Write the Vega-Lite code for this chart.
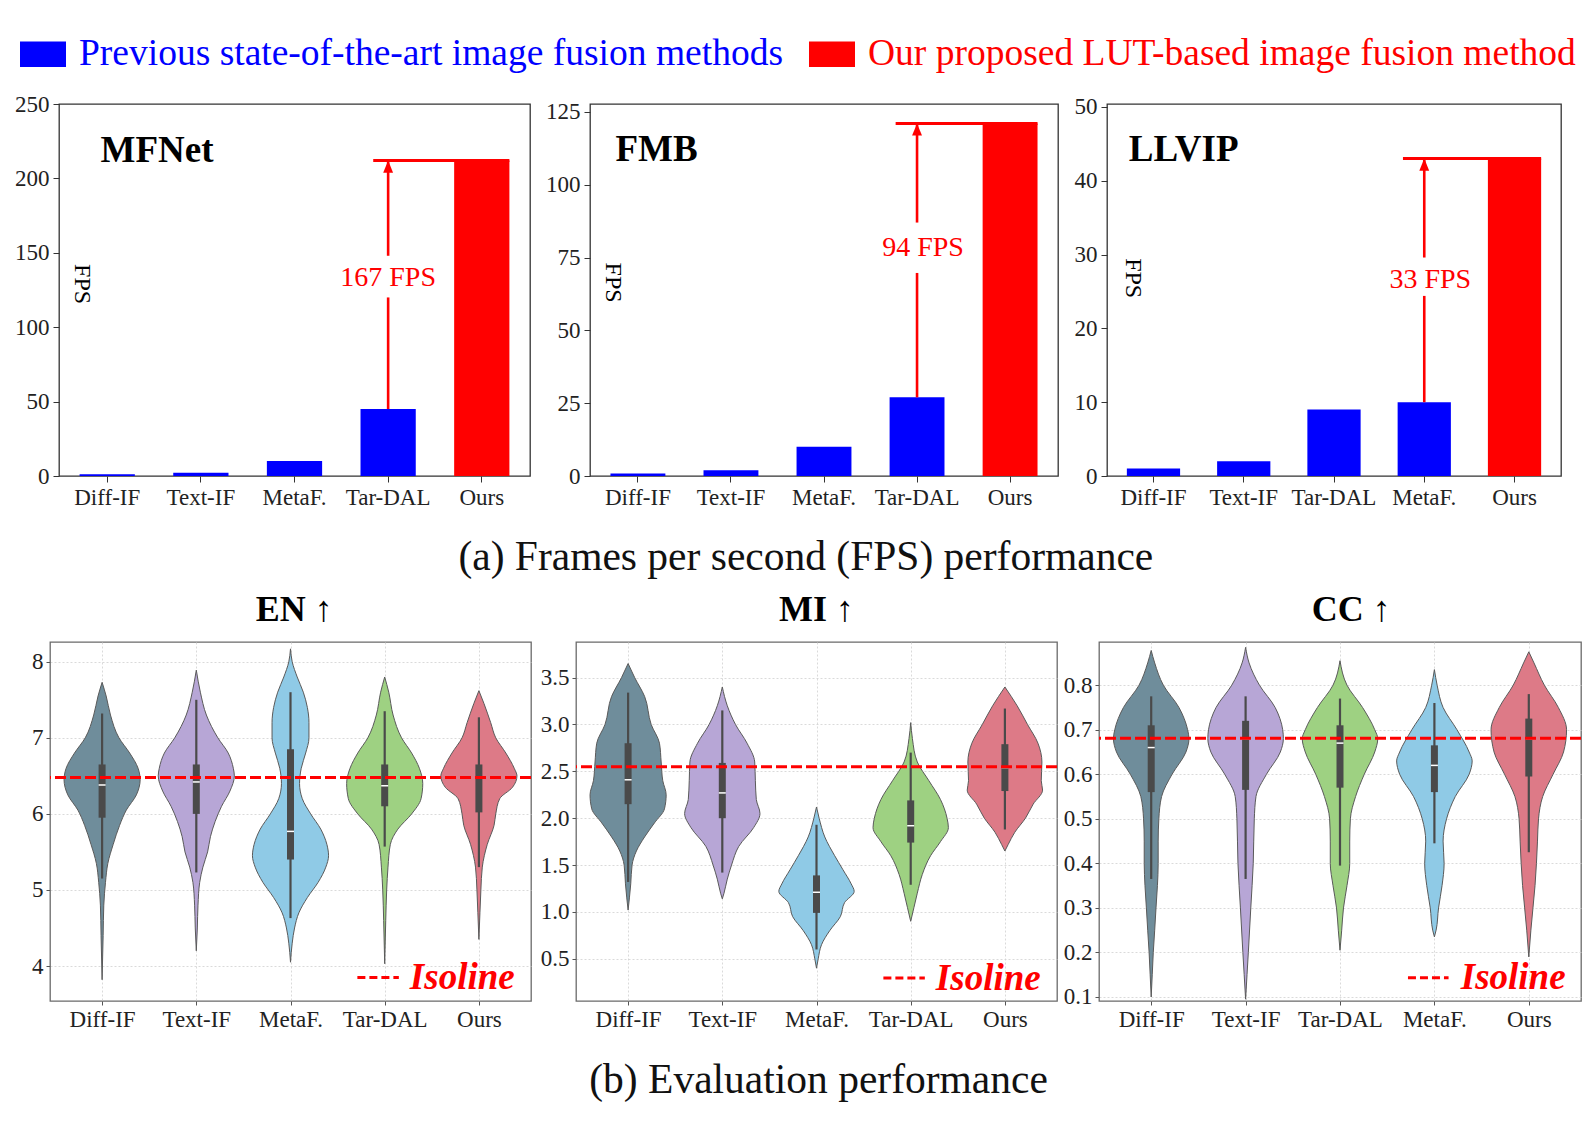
{
"$schema": "https://vega.github.io/schema/vega-lite/v6.json",
"background": "white",
"padding": {"left": 4, "top": 31, "right": 8, "bottom": 10},
"config": {
  "font": "Liberation Serif",
  "axis": {"labelFont": "Liberation Serif", "labelFontSize": 23, "labelColor": "#222", "tickColor": "#333", "domain": false, "titleFont": "Liberation Serif", "labelOverlap": false, "labelFlush": false},
  "title": {"font": "Liberation Serif", "color": "#111"},
  "legend": {"labelFont": "Liberation Serif"}
},
"datasets": {
  "bars": [
    {"p":"MFNet","c":"Diff-IF","fps":1.1,"g":"prev"},
    {"p":"MFNet","c":"Text-IF","fps":2.2,"g":"prev"},
    {"p":"MFNet","c":"MetaF.","fps":10,"g":"prev"},
    {"p":"MFNet","c":"Tar-DAL","fps":45,"g":"prev"},
    {"p":"MFNet","c":"Ours","fps":212,"g":"ours"},
    {"p":"FMB","c":"Diff-IF","fps":0.9,"g":"prev"},
    {"p":"FMB","c":"Text-IF","fps":2,"g":"prev"},
    {"p":"FMB","c":"MetaF.","fps":10,"g":"prev"},
    {"p":"FMB","c":"Tar-DAL","fps":27,"g":"prev"},
    {"p":"FMB","c":"Ours","fps":121,"g":"ours"},
    {"p":"LLVIP","c":"Diff-IF","fps":1,"g":"prev"},
    {"p":"LLVIP","c":"Text-IF","fps":2,"g":"prev"},
    {"p":"LLVIP","c":"Tar-DAL","fps":9,"g":"prev"},
    {"p":"LLVIP","c":"MetaF.","fps":10,"g":"prev"},
    {"p":"LLVIP","c":"Ours","fps":43,"g":"ours"}
  ],
  "gain": [
    {"p":"MFNet","c":"Tar-DAL","from":45,"to":212,"label":"167 FPS","ly":133,"gapLo":120,"gapHi":148},
    {"p":"FMB","c":"Tar-DAL","from":27,"to":121,"label":"94 FPS","ly":78.3,"gapLo":69.7,"gapHi":87},
    {"p":"LLVIP","c":"MetaF.","from":10,"to":43,"label":"33 FPS","ly":26.6,"gapLo":24.4,"gapHi":29.6}
  ],
  "box": [
    {"m":"EN","c":"Diff-IF","lo":5.15,"q1":5.95,"med":6.38,"q3":6.65,"hi":7.32},
    {"m":"EN","c":"Text-IF","lo":5.23,"q1":6.0,"med":6.42,"q3":6.65,"hi":7.5},
    {"m":"EN","c":"MetaF.","lo":4.63,"q1":5.4,"med":5.77,"q3":6.85,"hi":7.6},
    {"m":"EN","c":"Tar-DAL","lo":5.57,"q1":6.1,"med":6.37,"q3":6.65,"hi":7.35},
    {"m":"EN","c":"Ours","lo":5.3,"q1":6.02,"med":6.48,"q3":6.65,"hi":7.27},
    {"m":"MI","c":"Diff-IF","lo":1.32,"q1":2.15,"med":2.41,"q3":2.8,"hi":3.34},
    {"m":"MI","c":"Text-IF","lo":1.42,"q1":2.0,"med":2.27,"q3":2.59,"hi":3.15},
    {"m":"MI","c":"MetaF.","lo":0.6,"q1":0.99,"med":1.21,"q3":1.39,"hi":1.93},
    {"m":"MI","c":"Tar-DAL","lo":1.29,"q1":1.74,"med":1.92,"q3":2.19,"hi":2.7},
    {"m":"MI","c":"Ours","lo":1.88,"q1":2.29,"med":2.54,"q3":2.79,"hi":3.17},
    {"m":"CC","c":"Diff-IF","lo":0.365,"q1":0.56,"med":0.66,"q3":0.71,"hi":0.775},
    {"m":"CC","c":"Text-IF","lo":0.365,"q1":0.565,"med":0.68,"q3":0.72,"hi":0.775},
    {"m":"CC","c":"Tar-DAL","lo":0.395,"q1":0.57,"med":0.67,"q3":0.71,"hi":0.77},
    {"m":"CC","c":"MetaF.","lo":0.445,"q1":0.56,"med":0.62,"q3":0.665,"hi":0.76},
    {"m":"CC","c":"Ours","lo":0.425,"q1":0.595,"med":0.68,"q3":0.725,"hi":0.78}
  ],
  "heads": [
    {"m":"EN","t":"EN ↑","x":2.04,"y":8.536},
    {"m":"MI","t":"MI ↑","x":2.0,"y":4.104},
    {"m":"CC","t":"CC ↑","x":2.12,"y":0.944}
  ],
  "vio": [
    {"m":"EN","c":"Diff-IF","v":7.73,"w":0},{"m":"EN","c":"Diff-IF","v":7.55,"w":0.043},{"m":"EN","c":"Diff-IF","v":7.3,"w":0.089},{"m":"EN","c":"Diff-IF","v":7.0,"w":0.179},{"m":"EN","c":"Diff-IF","v":6.8,"w":0.293},{"m":"EN","c":"Diff-IF","v":6.6,"w":0.382},{"m":"EN","c":"Diff-IF","v":6.45,"w":0.404},{"m":"EN","c":"Diff-IF","v":6.25,"w":0.364},{"m":"EN","c":"Diff-IF","v":6.05,"w":0.257},{"m":"EN","c":"Diff-IF","v":5.85,"w":0.186},{"m":"EN","c":"Diff-IF","v":5.6,"w":0.118},{"m":"EN","c":"Diff-IF","v":5.35,"w":0.061},{"m":"EN","c":"Diff-IF","v":5.1,"w":0.036},{"m":"EN","c":"Diff-IF","v":4.8,"w":0.018},{"m":"EN","c":"Diff-IF","v":4.4,"w":0.011},{"m":"EN","c":"Diff-IF","v":3.82,"w":0},
    {"m":"EN","c":"Text-IF","v":7.89,"w":0},{"m":"EN","c":"Text-IF","v":7.6,"w":0.043},{"m":"EN","c":"Text-IF","v":7.3,"w":0.107},{"m":"EN","c":"Text-IF","v":7.0,"w":0.229},{"m":"EN","c":"Text-IF","v":6.8,"w":0.339},{"m":"EN","c":"Text-IF","v":6.6,"w":0.393},{"m":"EN","c":"Text-IF","v":6.5,"w":0.404},{"m":"EN","c":"Text-IF","v":6.3,"w":0.357},{"m":"EN","c":"Text-IF","v":6.1,"w":0.268},{"m":"EN","c":"Text-IF","v":5.9,"w":0.2},{"m":"EN","c":"Text-IF","v":5.7,"w":0.15},{"m":"EN","c":"Text-IF","v":5.5,"w":0.12},{"m":"EN","c":"Text-IF","v":5.3,"w":0.07},{"m":"EN","c":"Text-IF","v":5.1,"w":0.036},{"m":"EN","c":"Text-IF","v":4.8,"w":0.018},{"m":"EN","c":"Text-IF","v":4.5,"w":0.011},{"m":"EN","c":"Text-IF","v":4.2,"w":0},
    {"m":"EN","c":"MetaF.","v":8.17,"w":0},{"m":"EN","c":"MetaF.","v":8.0,"w":0.018},{"m":"EN","c":"MetaF.","v":7.8,"w":0.071},{"m":"EN","c":"MetaF.","v":7.6,"w":0.136},{"m":"EN","c":"MetaF.","v":7.4,"w":0.179},{"m":"EN","c":"MetaF.","v":7.2,"w":0.196},{"m":"EN","c":"MetaF.","v":7.0,"w":0.196},{"m":"EN","c":"MetaF.","v":6.8,"w":0.161},{"m":"EN","c":"MetaF.","v":6.6,"w":0.114},{"m":"EN","c":"MetaF.","v":6.4,"w":0.096},{"m":"EN","c":"MetaF.","v":6.2,"w":0.125},{"m":"EN","c":"MetaF.","v":6.0,"w":0.214},{"m":"EN","c":"MetaF.","v":5.8,"w":0.321},{"m":"EN","c":"MetaF.","v":5.6,"w":0.386},{"m":"EN","c":"MetaF.","v":5.45,"w":0.404},{"m":"EN","c":"MetaF.","v":5.3,"w":0.375},{"m":"EN","c":"MetaF.","v":5.1,"w":0.293},{"m":"EN","c":"MetaF.","v":4.9,"w":0.179},{"m":"EN","c":"MetaF.","v":4.7,"w":0.089},{"m":"EN","c":"MetaF.","v":4.5,"w":0.043},{"m":"EN","c":"MetaF.","v":4.3,"w":0.018},{"m":"EN","c":"MetaF.","v":4.05,"w":0},
    {"m":"EN","c":"Tar-DAL","v":7.8,"w":0},{"m":"EN","c":"Tar-DAL","v":7.6,"w":0.043},{"m":"EN","c":"Tar-DAL","v":7.3,"w":0.089},{"m":"EN","c":"Tar-DAL","v":7.0,"w":0.179},{"m":"EN","c":"Tar-DAL","v":6.8,"w":0.286},{"m":"EN","c":"Tar-DAL","v":6.6,"w":0.368},{"m":"EN","c":"Tar-DAL","v":6.4,"w":0.404},{"m":"EN","c":"Tar-DAL","v":6.2,"w":0.386},{"m":"EN","c":"Tar-DAL","v":6.0,"w":0.286},{"m":"EN","c":"Tar-DAL","v":5.8,"w":0.14},{"m":"EN","c":"Tar-DAL","v":5.6,"w":0.06},{"m":"EN","c":"Tar-DAL","v":5.3,"w":0.035},{"m":"EN","c":"Tar-DAL","v":5.0,"w":0.021},{"m":"EN","c":"Tar-DAL","v":4.6,"w":0.011},{"m":"EN","c":"Tar-DAL","v":4.03,"w":0},
    {"m":"EN","c":"Ours","v":7.62,"w":0},{"m":"EN","c":"Ours","v":7.45,"w":0.054},{"m":"EN","c":"Ours","v":7.2,"w":0.125},{"m":"EN","c":"Ours","v":7.0,"w":0.179},{"m":"EN","c":"Ours","v":6.8,"w":0.286},{"m":"EN","c":"Ours","v":6.6,"w":0.375},{"m":"EN","c":"Ours","v":6.5,"w":0.404},{"m":"EN","c":"Ours","v":6.35,"w":0.357},{"m":"EN","c":"Ours","v":6.2,"w":0.221},{"m":"EN","c":"Ours","v":6.0,"w":0.179},{"m":"EN","c":"Ours","v":5.85,"w":0.161},{"m":"EN","c":"Ours","v":5.6,"w":0.089},{"m":"EN","c":"Ours","v":5.3,"w":0.036},{"m":"EN","c":"Ours","v":5.0,"w":0.021},{"m":"EN","c":"Ours","v":4.7,"w":0.011},{"m":"EN","c":"Ours","v":4.35,"w":0},
    {"m":"MI","c":"Diff-IF","v":3.65,"w":0},{"m":"MI","c":"Diff-IF","v":3.5,"w":0.07},{"m":"MI","c":"Diff-IF","v":3.3,"w":0.175},{"m":"MI","c":"Diff-IF","v":3.0,"w":0.245},{"m":"MI","c":"Diff-IF","v":2.8,"w":0.333},{"m":"MI","c":"Diff-IF","v":2.6,"w":0.351},{"m":"MI","c":"Diff-IF","v":2.4,"w":0.368},{"m":"MI","c":"Diff-IF","v":2.25,"w":0.404},{"m":"MI","c":"Diff-IF","v":2.1,"w":0.386},{"m":"MI","c":"Diff-IF","v":1.95,"w":0.28},{"m":"MI","c":"Diff-IF","v":1.8,"w":0.175},{"m":"MI","c":"Diff-IF","v":1.65,"w":0.088},{"m":"MI","c":"Diff-IF","v":1.5,"w":0.042},{"m":"MI","c":"Diff-IF","v":1.3,"w":0.028},{"m":"MI","c":"Diff-IF","v":1.15,"w":0.014},{"m":"MI","c":"Diff-IF","v":1.02,"w":0},
    {"m":"MI","c":"Text-IF","v":3.4,"w":0},{"m":"MI","c":"Text-IF","v":3.2,"w":0.053},{"m":"MI","c":"Text-IF","v":3.0,"w":0.14},{"m":"MI","c":"Text-IF","v":2.8,"w":0.263},{"m":"MI","c":"Text-IF","v":2.6,"w":0.344},{"m":"MI","c":"Text-IF","v":2.4,"w":0.351},{"m":"MI","c":"Text-IF","v":2.2,"w":0.361},{"m":"MI","c":"Text-IF","v":2.05,"w":0.4},{"m":"MI","c":"Text-IF","v":1.9,"w":0.333},{"m":"MI","c":"Text-IF","v":1.7,"w":0.175},{"m":"MI","c":"Text-IF","v":1.5,"w":0.098},{"m":"MI","c":"Text-IF","v":1.35,"w":0.053},{"m":"MI","c":"Text-IF","v":1.2,"w":0.018},{"m":"MI","c":"Text-IF","v":1.14,"w":0},
    {"m":"MI","c":"MetaF.","v":2.12,"w":0},{"m":"MI","c":"MetaF.","v":2.0,"w":0.028},{"m":"MI","c":"MetaF.","v":1.8,"w":0.088},{"m":"MI","c":"MetaF.","v":1.6,"w":0.193},{"m":"MI","c":"MetaF.","v":1.45,"w":0.281},{"m":"MI","c":"MetaF.","v":1.3,"w":0.368},{"m":"MI","c":"MetaF.","v":1.22,"w":0.4},{"m":"MI","c":"MetaF.","v":1.1,"w":0.298},{"m":"MI","c":"MetaF.","v":0.95,"w":0.253},{"m":"MI","c":"MetaF.","v":0.8,"w":0.14},{"m":"MI","c":"MetaF.","v":0.65,"w":0.053},{"m":"MI","c":"MetaF.","v":0.5,"w":0.018},{"m":"MI","c":"MetaF.","v":0.4,"w":0},
    {"m":"MI","c":"Tar-DAL","v":3.02,"w":0},{"m":"MI","c":"Tar-DAL","v":2.85,"w":0.018},{"m":"MI","c":"Tar-DAL","v":2.6,"w":0.07},{"m":"MI","c":"Tar-DAL","v":2.4,"w":0.193},{"m":"MI","c":"Tar-DAL","v":2.2,"w":0.316},{"m":"MI","c":"Tar-DAL","v":2.0,"w":0.386},{"m":"MI","c":"Tar-DAL","v":1.9,"w":0.4},{"m":"MI","c":"Tar-DAL","v":1.75,"w":0.316},{"m":"MI","c":"Tar-DAL","v":1.6,"w":0.211},{"m":"MI","c":"Tar-DAL","v":1.4,"w":0.123},{"m":"MI","c":"Tar-DAL","v":1.2,"w":0.07},{"m":"MI","c":"Tar-DAL","v":1.05,"w":0.035},{"m":"MI","c":"Tar-DAL","v":0.9,"w":0},
    {"m":"MI","c":"Ours","v":3.4,"w":0},{"m":"MI","c":"Ours","v":3.2,"w":0.13},{"m":"MI","c":"Ours","v":3.0,"w":0.24},{"m":"MI","c":"Ours","v":2.8,"w":0.351},{"m":"MI","c":"Ours","v":2.6,"w":0.393},{"m":"MI","c":"Ours","v":2.4,"w":0.386},{"m":"MI","c":"Ours","v":2.3,"w":0.4},{"m":"MI","c":"Ours","v":2.15,"w":0.3},{"m":"MI","c":"Ours","v":2.0,"w":0.218},{"m":"MI","c":"Ours","v":1.85,"w":0.105},{"m":"MI","c":"Ours","v":1.72,"w":0.035},{"m":"MI","c":"Ours","v":1.65,"w":0},
    {"m":"CC","c":"Diff-IF","v":0.878,"w":0},{"m":"CC","c":"Diff-IF","v":0.85,"w":0.037},{"m":"CC","c":"Diff-IF","v":0.8,"w":0.129},{"m":"CC","c":"Diff-IF","v":0.75,"w":0.294},{"m":"CC","c":"Diff-IF","v":0.7,"w":0.386},{"m":"CC","c":"Diff-IF","v":0.68,"w":0.4},{"m":"CC","c":"Diff-IF","v":0.65,"w":0.368},{"m":"CC","c":"Diff-IF","v":0.6,"w":0.221},{"m":"CC","c":"Diff-IF","v":0.55,"w":0.11},{"m":"CC","c":"Diff-IF","v":0.5,"w":0.081},{"m":"CC","c":"Diff-IF","v":0.45,"w":0.074},{"m":"CC","c":"Diff-IF","v":0.4,"w":0.074},{"m":"CC","c":"Diff-IF","v":0.35,"w":0.066},{"m":"CC","c":"Diff-IF","v":0.3,"w":0.051},{"m":"CC","c":"Diff-IF","v":0.25,"w":0.037},{"m":"CC","c":"Diff-IF","v":0.2,"w":0.022},{"m":"CC","c":"Diff-IF","v":0.15,"w":0.011},{"m":"CC","c":"Diff-IF","v":0.1,"w":0},
    {"m":"CC","c":"Text-IF","v":0.885,"w":0},{"m":"CC","c":"Text-IF","v":0.85,"w":0.037},{"m":"CC","c":"Text-IF","v":0.8,"w":0.147},{"m":"CC","c":"Text-IF","v":0.75,"w":0.313},{"m":"CC","c":"Text-IF","v":0.7,"w":0.393},{"m":"CC","c":"Text-IF","v":0.68,"w":0.4},{"m":"CC","c":"Text-IF","v":0.65,"w":0.368},{"m":"CC","c":"Text-IF","v":0.6,"w":0.221},{"m":"CC","c":"Text-IF","v":0.55,"w":0.11},{"m":"CC","c":"Text-IF","v":0.5,"w":0.092},{"m":"CC","c":"Text-IF","v":0.4,"w":0.081},{"m":"CC","c":"Text-IF","v":0.3,"w":0.055},{"m":"CC","c":"Text-IF","v":0.2,"w":0.029},{"m":"CC","c":"Text-IF","v":0.15,"w":0.015},{"m":"CC","c":"Text-IF","v":0.095,"w":0},
    {"m":"CC","c":"Tar-DAL","v":0.855,"w":0},{"m":"CC","c":"Tar-DAL","v":0.8,"w":0.074},{"m":"CC","c":"Tar-DAL","v":0.75,"w":0.239},{"m":"CC","c":"Tar-DAL","v":0.7,"w":0.368},{"m":"CC","c":"Tar-DAL","v":0.68,"w":0.4},{"m":"CC","c":"Tar-DAL","v":0.65,"w":0.368},{"m":"CC","c":"Tar-DAL","v":0.6,"w":0.257},{"m":"CC","c":"Tar-DAL","v":0.55,"w":0.165},{"m":"CC","c":"Tar-DAL","v":0.5,"w":0.11},{"m":"CC","c":"Tar-DAL","v":0.45,"w":0.103},{"m":"CC","c":"Tar-DAL","v":0.4,"w":0.103},{"m":"CC","c":"Tar-DAL","v":0.35,"w":0.074},{"m":"CC","c":"Tar-DAL","v":0.3,"w":0.037},{"m":"CC","c":"Tar-DAL","v":0.25,"w":0.018},{"m":"CC","c":"Tar-DAL","v":0.205,"w":0},
    {"m":"CC","c":"MetaF.","v":0.835,"w":0},{"m":"CC","c":"MetaF.","v":0.8,"w":0.029},{"m":"CC","c":"MetaF.","v":0.75,"w":0.092},{"m":"CC","c":"MetaF.","v":0.7,"w":0.239},{"m":"CC","c":"MetaF.","v":0.65,"w":0.368},{"m":"CC","c":"MetaF.","v":0.63,"w":0.4},{"m":"CC","c":"MetaF.","v":0.6,"w":0.368},{"m":"CC","c":"MetaF.","v":0.55,"w":0.221},{"m":"CC","c":"MetaF.","v":0.5,"w":0.129},{"m":"CC","c":"MetaF.","v":0.45,"w":0.092},{"m":"CC","c":"MetaF.","v":0.4,"w":0.103},{"m":"CC","c":"MetaF.","v":0.35,"w":0.081},{"m":"CC","c":"MetaF.","v":0.3,"w":0.044},{"m":"CC","c":"MetaF.","v":0.25,"w":0.018},{"m":"CC","c":"MetaF.","v":0.235,"w":0},
    {"m":"CC","c":"Ours","v":0.875,"w":0},{"m":"CC","c":"Ours","v":0.85,"w":0.055},{"m":"CC","c":"Ours","v":0.8,"w":0.165},{"m":"CC","c":"Ours","v":0.75,"w":0.313},{"m":"CC","c":"Ours","v":0.7,"w":0.4},{"m":"CC","c":"Ours","v":0.65,"w":0.368},{"m":"CC","c":"Ours","v":0.6,"w":0.257},{"m":"CC","c":"Ours","v":0.55,"w":0.147},{"m":"CC","c":"Ours","v":0.5,"w":0.103},{"m":"CC","c":"Ours","v":0.45,"w":0.092},{"m":"CC","c":"Ours","v":0.4,"w":0.081},{"m":"CC","c":"Ours","v":0.35,"w":0.066},{"m":"CC","c":"Ours","v":0.3,"w":0.044},{"m":"CC","c":"Ours","v":0.25,"w":0.022},{"m":"CC","c":"Ours","v":0.19,"w":0}
  ]
},
"spacing": 12,
"vconcat": [
{
  "hconcat": [
  {
    "width": 1, "height": 1,
    "view": {"stroke": null},
    "data": {"values": []},
    "mark": {"type": "point", "opacity": 0}
  },
  {
    "width": 471, "height": 372,
    "view": {"stroke": "#333", "strokeWidth": 1.3},
    "layer": [
      {"data": {"name": "bars"}, "transform": [{"filter": "datum.p == 'MFNet'"}],
       "mark": {"type": "bar"},
       "encoding": {
         "x": {"field": "c", "type": "nominal", "scale": {"type": "band", "domain": ["Diff-IF","Text-IF","MetaF.","Tar-DAL","Ours"], "paddingInner": 0.41, "paddingOuter": 0.22}, "axis": {"title": null, "labelAngle": 0, "tickSize": 6, "labelPadding": 4}},
         "y": {"field": "fps", "type": "quantitative", "scale": {"domain": [0, 250], "nice": false}, "axis": {"values": [0,50,100,150,200,250], "grid": false, "tickSize": 6, "labelPadding": 4, "title": ".", "titleX": -46, "titleY": -11, "titleAngle": 0, "titleAlign": "left", "titleBaseline": "middle", "titleFontSize": 2, "titleColor": "transparent"}},
         "color": {"field": "g", "type": "nominal", "scale": {"domain": ["prev","ours"], "range": ["#0000ff","#ff0000"]},
           "legend": {"orient": "none", "legendX": 16, "legendY": -73, "direction": "horizontal", "columns": 2, "columnPadding": 26, "title": null, "symbolType": "M-1,-0.55H1V0.55H-1Z", "symbolSize": 2116, "symbolStrokeWidth": 0, "symbolOpacity": 1, "labelFont": "Liberation Serif", "labelFontSize": 37.5, "labelLimit": 2000, "labelOffset": 13, "padding": 0, "labelExpr": "datum.value === 'prev' ? 'Previous state-of-the-art image fusion methods' : 'Our proposed LUT-based image fusion method'", "encode": {"labels": {"update": {"fill": {"signal": "datum.value === 'prev' ? '#0000ff' : '#ff0000'"}}}}}}
       }},
      {"data": {"name": "gain"}, "transform": [{"filter": "datum.p == 'MFNet'"}],
       "mark": {"type": "rule", "color": "#ff0000", "strokeWidth": 3},
       "encoding": {"x": {"field": "c", "type": "nominal", "bandPosition": 0.23}, "x2": {"datum": "Ours", "bandPosition": 1}, "y": {"field": "to", "type": "quantitative"}}},
      {"data": {"name": "gain"}, "transform": [{"filter": "datum.p == 'MFNet'"}],
       "mark": {"type": "rule", "color": "#ff0000", "strokeWidth": 2.6},
       "encoding": {"x": {"field": "c", "type": "nominal", "bandPosition": 0.5}, "y": {"field": "from", "type": "quantitative"}, "y2": {"field": "gapLo"}}},
      {"data": {"name": "gain"}, "transform": [{"filter": "datum.p == 'MFNet'"}],
       "mark": {"type": "rule", "color": "#ff0000", "strokeWidth": 2.6},
       "encoding": {"x": {"field": "c", "type": "nominal", "bandPosition": 0.5}, "y": {"field": "gapHi", "type": "quantitative"}, "y2": {"field": "to"}}},
      {"data": {"name": "gain"}, "transform": [{"filter": "datum.p == 'MFNet'"}],
       "mark": {"type": "point", "shape": "M0,0L-0.45,1.1L0.45,1.1Z", "size": 484, "filled": true, "color": "#ff0000", "opacity": 1},
       "encoding": {"x": {"field": "c", "type": "nominal", "bandPosition": 0.5}, "y": {"field": "to", "type": "quantitative"}}},
      {"data": {"name": "gain"}, "transform": [{"filter": "datum.p == 'MFNet'"}],
       "mark": {"type": "text", "color": "#ff0000", "fontSize": 28, "align": "center", "baseline": "middle"},
       "encoding": {"x": {"field": "c", "type": "nominal", "bandPosition": 0.5}, "y": {"field": "ly", "type": "quantitative"}, "text": {"field": "label"}}},
      {"data": {"values": [{}]},
       "mark": {"type": "text", "text": "MFNet", "fontSize": 37, "fontWeight": "bold", "align": "left", "baseline": "alphabetic", "dx": 21, "color": "#000"},
       "encoding": {"x": {"datum": "Diff-IF", "bandPosition": 0}, "y": {"datum": 211}}},
      {"data": {"values": [{}]},
       "mark": {"type": "text", "text": "FPS", "fontSize": 24, "angle": 90, "align": "center", "baseline": "middle", "color": "#000"},
       "encoding": {"x": {"datum": "Diff-IF", "bandPosition": 0.05}, "y": {"datum": 129}}}
    ]
  },
  {
    "width": 468, "height": 372,
    "view": {"stroke": "#333", "strokeWidth": 1.3},
    "layer": [
      {"data": {"name": "bars"}, "transform": [{"filter": "datum.p == 'FMB'"}],
       "mark": {"type": "bar"},
       "encoding": {
         "x": {"field": "c", "type": "nominal", "scale": {"type": "band", "domain": ["Diff-IF","Text-IF","MetaF.","Tar-DAL","Ours"], "paddingInner": 0.41, "paddingOuter": 0.22}, "axis": {"title": null, "labelAngle": 0, "tickSize": 6, "labelPadding": 4}},
         "y": {"field": "fps", "type": "quantitative", "scale": {"domain": [0, 127.7], "nice": false}, "axis": {"values": [0,25,50,75,100,125], "grid": false, "tickSize": 6, "labelPadding": 4, "title": ".", "titleX": -51, "titleY": -11, "titleAngle": 0, "titleAlign": "left", "titleBaseline": "middle", "titleFontSize": 2, "titleColor": "transparent"}},
         "color": {"field": "g", "type": "nominal", "scale": {"domain": ["prev","ours"], "range": ["#0000ff","#ff0000"]},
           "legend": {"orient": "none", "legendX": 16, "legendY": -73, "direction": "horizontal", "columns": 2, "columnPadding": 26, "title": null, "symbolType": "M-1,-0.55H1V0.55H-1Z", "symbolSize": 2116, "symbolStrokeWidth": 0, "symbolOpacity": 1, "labelFont": "Liberation Serif", "labelFontSize": 37.5, "labelLimit": 2000, "labelOffset": 13, "padding": 0, "labelExpr": "datum.value === 'prev' ? 'Previous state-of-the-art image fusion methods' : 'Our proposed LUT-based image fusion method'", "encode": {"labels": {"update": {"fill": {"signal": "datum.value === 'prev' ? '#0000ff' : '#ff0000'"}}}}}}
       }},
      {"data": {"name": "gain"}, "transform": [{"filter": "datum.p == 'FMB'"}],
       "mark": {"type": "rule", "color": "#ff0000", "strokeWidth": 3},
       "encoding": {"x": {"field": "c", "type": "nominal", "bandPosition": 0.11}, "x2": {"datum": "Ours", "bandPosition": 1}, "y": {"field": "to", "type": "quantitative"}}},
      {"data": {"name": "gain"}, "transform": [{"filter": "datum.p == 'FMB'"}],
       "mark": {"type": "rule", "color": "#ff0000", "strokeWidth": 2.6},
       "encoding": {"x": {"field": "c", "type": "nominal", "bandPosition": 0.5}, "y": {"field": "from", "type": "quantitative"}, "y2": {"field": "gapLo"}}},
      {"data": {"name": "gain"}, "transform": [{"filter": "datum.p == 'FMB'"}],
       "mark": {"type": "rule", "color": "#ff0000", "strokeWidth": 2.6},
       "encoding": {"x": {"field": "c", "type": "nominal", "bandPosition": 0.5}, "y": {"field": "gapHi", "type": "quantitative"}, "y2": {"field": "to"}}},
      {"data": {"name": "gain"}, "transform": [{"filter": "datum.p == 'FMB'"}],
       "mark": {"type": "point", "shape": "M0,0L-0.45,1.1L0.45,1.1Z", "size": 484, "filled": true, "color": "#ff0000", "opacity": 1},
       "encoding": {"x": {"field": "c", "type": "nominal", "bandPosition": 0.5}, "y": {"field": "to", "type": "quantitative"}}},
      {"data": {"name": "gain"}, "transform": [{"filter": "datum.p == 'FMB'"}],
       "mark": {"type": "text", "color": "#ff0000", "fontSize": 28, "align": "center", "baseline": "middle", "dx": 6},
       "encoding": {"x": {"field": "c", "type": "nominal", "bandPosition": 0.5}, "y": {"field": "ly", "type": "quantitative"}, "text": {"field": "label"}}},
      {"data": {"values": [{}]},
       "mark": {"type": "text", "text": "FMB", "fontSize": 37, "fontWeight": "bold", "align": "left", "baseline": "alphabetic", "dx": 5, "color": "#000"},
       "encoding": {"x": {"datum": "Diff-IF", "bandPosition": 0}, "y": {"datum": 108.1}}},
      {"data": {"values": [{}]},
       "mark": {"type": "text", "text": "FPS", "fontSize": 24, "angle": 90, "align": "center", "baseline": "middle", "color": "#000"},
       "encoding": {"x": {"datum": "Diff-IF", "bandPosition": 0.05}, "y": {"datum": 66.4}}}
    ]
  },
  {
    "width": 454, "height": 372,
    "view": {"stroke": "#333", "strokeWidth": 1.3},
    "layer": [
      {"data": {"name": "bars"}, "transform": [{"filter": "datum.p == 'LLVIP'"}],
       "mark": {"type": "bar"},
       "encoding": {
         "x": {"field": "c", "type": "nominal", "scale": {"type": "band", "domain": ["Diff-IF","Text-IF","Tar-DAL","MetaF.","Ours"], "paddingInner": 0.41, "paddingOuter": 0.22}, "axis": {"title": null, "labelAngle": 0, "tickSize": 6, "labelPadding": 4}},
         "y": {"field": "fps", "type": "quantitative", "scale": {"domain": [0, 50.4], "nice": false}, "axis": {"values": [0,10,20,30,40,50], "grid": false, "tickSize": 6, "labelPadding": 4, "title": ".", "titleX": -40, "titleY": -11, "titleAngle": 0, "titleAlign": "left", "titleBaseline": "middle", "titleFontSize": 2, "titleColor": "transparent"}},
         "color": {"field": "g", "type": "nominal", "scale": {"domain": ["prev","ours"], "range": ["#0000ff","#ff0000"]},
           "legend": {"orient": "none", "legendX": 16, "legendY": -73, "direction": "horizontal", "columns": 2, "columnPadding": 26, "title": null, "symbolType": "M-1,-0.55H1V0.55H-1Z", "symbolSize": 2116, "symbolStrokeWidth": 0, "symbolOpacity": 1, "labelFont": "Liberation Serif", "labelFontSize": 37.5, "labelLimit": 2000, "labelOffset": 13, "padding": 0, "labelExpr": "datum.value === 'prev' ? 'Previous state-of-the-art image fusion methods' : 'Our proposed LUT-based image fusion method'", "encode": {"labels": {"update": {"fill": {"signal": "datum.value === 'prev' ? '#0000ff' : '#ff0000'"}}}}}}
       }},
      {"data": {"name": "gain"}, "transform": [{"filter": "datum.p == 'LLVIP'"}],
       "mark": {"type": "rule", "color": "#ff0000", "strokeWidth": 3},
       "encoding": {"x": {"field": "c", "type": "nominal", "bandPosition": 0.1}, "x2": {"datum": "Ours", "bandPosition": 1}, "y": {"field": "to", "type": "quantitative"}}},
      {"data": {"name": "gain"}, "transform": [{"filter": "datum.p == 'LLVIP'"}],
       "mark": {"type": "rule", "color": "#ff0000", "strokeWidth": 2.6},
       "encoding": {"x": {"field": "c", "type": "nominal", "bandPosition": 0.5}, "y": {"field": "from", "type": "quantitative"}, "y2": {"field": "gapLo"}}},
      {"data": {"name": "gain"}, "transform": [{"filter": "datum.p == 'LLVIP'"}],
       "mark": {"type": "rule", "color": "#ff0000", "strokeWidth": 2.6},
       "encoding": {"x": {"field": "c", "type": "nominal", "bandPosition": 0.5}, "y": {"field": "gapHi", "type": "quantitative"}, "y2": {"field": "to"}}},
      {"data": {"name": "gain"}, "transform": [{"filter": "datum.p == 'LLVIP'"}],
       "mark": {"type": "point", "shape": "M0,0L-0.45,1.1L0.45,1.1Z", "size": 484, "filled": true, "color": "#ff0000", "opacity": 1},
       "encoding": {"x": {"field": "c", "type": "nominal", "bandPosition": 0.5}, "y": {"field": "to", "type": "quantitative"}}},
      {"data": {"name": "gain"}, "transform": [{"filter": "datum.p == 'LLVIP'"}],
       "mark": {"type": "text", "color": "#ff0000", "fontSize": 28, "align": "center", "baseline": "middle", "dx": 6},
       "encoding": {"x": {"field": "c", "type": "nominal", "bandPosition": 0.5}, "y": {"field": "ly", "type": "quantitative"}, "text": {"field": "label"}}},
      {"data": {"values": [{}]},
       "mark": {"type": "text", "text": "LLVIP", "fontSize": 37, "fontWeight": "bold", "align": "left", "baseline": "alphabetic", "dx": 2, "color": "#000"},
       "encoding": {"x": {"datum": "Diff-IF", "bandPosition": 0}, "y": {"datum": 42.7}}},
      {"data": {"values": [{}]},
       "mark": {"type": "text", "text": "FPS", "fontSize": 24, "angle": 90, "align": "center", "baseline": "middle", "color": "#000"},
       "encoding": {"x": {"datum": "Diff-IF", "bandPosition": 0.12}, "y": {"datum": 26.8}}}
    ]
  }
  ],
  "spacing": 7,
  "title": {"text": "(a) Frames per second (FPS) performance", "orient": "bottom", "anchor": "middle", "fontSize": 41.5, "fontWeight": "normal", "offset": 27, "dx": 23, "color": "#111"}
},
{
  "hconcat": [
  {
    "width": 7, "height": 1,
    "view": {"stroke": null},
    "data": {"values": []},
    "mark": {"type": "point", "opacity": 0}
  },
  {
    "width": 481, "height": 359,
    "view": {"stroke": "#6a6a6a", "strokeWidth": 1.3},
    "layer": [
      {"data": {"name": "vio"},
       "transform": [{"filter": "datum.m == 'EN'"}, {"calculate": "indexof(['Diff-IF','Text-IF','MetaF.','Tar-DAL','Ours'], datum.c)", "as": "i"}, {"calculate": "datum.i - datum.w", "as": "lo"}, {"calculate": "datum.i + datum.w", "as": "hi"}],
       "mark": {"type": "area", "orient": "horizontal", "interpolate": "monotone", "stroke": "#5a5a5a", "strokeWidth": 1, "opacity": 1},
       "encoding": {
         "y": {"field": "v", "type": "quantitative", "scale": {"domain": [3.54, 8.26], "nice": false, "zero": false}, "axis": {"values": [4,5,6,7,8], "format": "d", "grid": true, "gridColor": "#d0d0d0", "gridDash": [2,2], "gridWidth": 0.8, "tickSize": 4, "tickColor": "#555", "labelPadding": 3, "title": ".", "titleX": -37, "titleY": 100, "titleAngle": 0, "titleAlign": "left", "titleBaseline": "middle", "titleFontSize": 2, "titleColor": "transparent"}},
         "x": {"field": "lo", "type": "quantitative", "scale": {"domain": [-0.5, 4.5], "nice": false, "zero": false}, "axis": {"values": [0,1,2,3,4], "labelExpr": "['Diff-IF','Text-IF','MetaF.','Tar-DAL','Ours'][datum.value]", "grid": true, "gridColor": "#d0d0d0", "gridDash": [2,2], "gridWidth": 0.8, "tickSize": 4, "tickColor": "#555", "labelPadding": 3, "title": null}},
         "x2": {"field": "hi"},
         "fill": {"field": "c", "type": "nominal", "scale": {"domain": ["Diff-IF","Text-IF","MetaF.","Tar-DAL","Ours"], "range": ["#6f8d9b","#b7a6d6","#8fcae6","#9ed182","#dd7a87"]}, "legend": null}
       }},
      {"data": {"name": "box"}, "transform": [{"filter": "datum.m == 'EN'"}, {"calculate": "indexof(['Diff-IF','Text-IF','MetaF.','Tar-DAL','Ours'], datum.c)", "as": "i"}],
       "mark": {"type": "rule", "color": "#4a4a4a", "strokeWidth": 2.2},
       "encoding": {"x": {"field": "i", "type": "quantitative"}, "y": {"field": "lo", "type": "quantitative"}, "y2": {"field": "hi"}}},
      {"data": {"name": "box"}, "transform": [{"filter": "datum.m == 'EN'"}, {"calculate": "indexof(['Diff-IF','Text-IF','MetaF.','Tar-DAL','Ours'], datum.c)", "as": "i"}],
       "mark": {"type": "bar", "color": "#4a4a4a", "size": 7},
       "encoding": {"x": {"field": "i", "type": "quantitative"}, "y": {"field": "q1", "type": "quantitative"}, "y2": {"field": "q3"}}},
      {"data": {"name": "box"}, "transform": [{"filter": "datum.m == 'EN'"}, {"calculate": "indexof(['Diff-IF','Text-IF','MetaF.','Tar-DAL','Ours'], datum.c)", "as": "i"}],
       "mark": {"type": "point", "shape": "M-1,0H1", "size": 49, "filled": false, "stroke": "#ffffff", "strokeWidth": 1.5, "opacity": 1},
       "encoding": {"x": {"field": "i", "type": "quantitative"}, "y": {"field": "med", "type": "quantitative"}}},
      {"data": {"values": [{}]},
       "mark": {"type": "rule", "color": "#ff0000", "strokeWidth": 3, "strokeDash": [11, 4]},
       "encoding": {"y": {"datum": 6.48}}},
      {"data": {"values": [{}]},
       "mark": {"type": "rule", "color": "#ff0000", "strokeWidth": 3, "strokeDash": [8, 4]},
       "encoding": {"x": {"datum": 2.71}, "x2": {"datum": 3.15}, "y": {"datum": 3.85}}},
      {"data": {"values": [{}]},
       "mark": {"type": "text", "text": "Isoline", "fontSize": 37, "fontWeight": "bold", "fontStyle": "italic", "color": "#ff0000", "align": "right", "baseline": "middle"},
       "encoding": {"x": {"datum": 4.38}, "y": {"datum": 3.84}}},
      {"data": {"name": "heads"}, "transform": [{"filter": "datum.m == 'EN'"}],
       "mark": {"type": "text", "fontSize": 36, "fontWeight": "bold", "align": "center", "baseline": "alphabetic", "color": "#000"},
       "encoding": {"x": {"field": "x", "type": "quantitative"}, "y": {"field": "y", "type": "quantitative"}, "text": {"field": "t"}}}
    ]
  },
  {
    "width": 481, "height": 359,
    "view": {"stroke": "#6a6a6a", "strokeWidth": 1.3},
    "layer": [
      {"data": {"name": "vio"},
       "transform": [{"filter": "datum.m == 'MI'"}, {"calculate": "indexof(['Diff-IF','Text-IF','MetaF.','Tar-DAL','Ours'], datum.c)", "as": "i"}, {"calculate": "datum.i - datum.w", "as": "lo"}, {"calculate": "datum.i + datum.w", "as": "hi"}],
       "mark": {"type": "area", "orient": "horizontal", "interpolate": "monotone", "stroke": "#5a5a5a", "strokeWidth": 1, "opacity": 1},
       "encoding": {
         "y": {"field": "v", "type": "quantitative", "scale": {"domain": [0.05, 3.88], "nice": false, "zero": false}, "axis": {"values": [0.5,1,1.5,2,2.5,3,3.5], "format": ".1f", "grid": true, "gridColor": "#d0d0d0", "gridDash": [2,2], "gridWidth": 0.8, "tickSize": 4, "tickColor": "#555", "labelPadding": 3, "title": ".", "titleX": -40, "titleY": 100, "titleAngle": 0, "titleAlign": "left", "titleBaseline": "middle", "titleFontSize": 2, "titleColor": "transparent"}},
         "x": {"field": "lo", "type": "quantitative", "scale": {"domain": [-0.5, 4.5], "nice": false, "zero": false}, "axis": {"values": [0,1,2,3,4], "labelExpr": "['Diff-IF','Text-IF','MetaF.','Tar-DAL','Ours'][datum.value]", "grid": true, "gridColor": "#d0d0d0", "gridDash": [2,2], "gridWidth": 0.8, "tickSize": 4, "tickColor": "#555", "labelPadding": 3, "title": null}},
         "x2": {"field": "hi"},
         "fill": {"field": "c", "type": "nominal", "scale": {"domain": ["Diff-IF","Text-IF","MetaF.","Tar-DAL","Ours"], "range": ["#6f8d9b","#b7a6d6","#8fcae6","#9ed182","#dd7a87"]}, "legend": null}
       }},
      {"data": {"name": "box"}, "transform": [{"filter": "datum.m == 'MI'"}, {"calculate": "indexof(['Diff-IF','Text-IF','MetaF.','Tar-DAL','Ours'], datum.c)", "as": "i"}],
       "mark": {"type": "rule", "color": "#4a4a4a", "strokeWidth": 2.2},
       "encoding": {"x": {"field": "i", "type": "quantitative"}, "y": {"field": "lo", "type": "quantitative"}, "y2": {"field": "hi"}}},
      {"data": {"name": "box"}, "transform": [{"filter": "datum.m == 'MI'"}, {"calculate": "indexof(['Diff-IF','Text-IF','MetaF.','Tar-DAL','Ours'], datum.c)", "as": "i"}],
       "mark": {"type": "bar", "color": "#4a4a4a", "size": 7},
       "encoding": {"x": {"field": "i", "type": "quantitative"}, "y": {"field": "q1", "type": "quantitative"}, "y2": {"field": "q3"}}},
      {"data": {"name": "box"}, "transform": [{"filter": "datum.m == 'MI'"}, {"calculate": "indexof(['Diff-IF','Text-IF','MetaF.','Tar-DAL','Ours'], datum.c)", "as": "i"}],
       "mark": {"type": "point", "shape": "M-1,0H1", "size": 49, "filled": false, "stroke": "#ffffff", "strokeWidth": 1.5, "opacity": 1},
       "encoding": {"x": {"field": "i", "type": "quantitative"}, "y": {"field": "med", "type": "quantitative"}}},
      {"data": {"values": [{}]},
       "mark": {"type": "rule", "color": "#ff0000", "strokeWidth": 3, "strokeDash": [11, 4]},
       "encoding": {"y": {"datum": 2.55}}},
      {"data": {"values": [{}]},
       "mark": {"type": "rule", "color": "#ff0000", "strokeWidth": 3, "strokeDash": [8, 4]},
       "encoding": {"x": {"datum": 2.71}, "x2": {"datum": 3.15}, "y": {"datum": 0.295}}},
      {"data": {"values": [{}]},
       "mark": {"type": "text", "text": "Isoline", "fontSize": 37, "fontWeight": "bold", "fontStyle": "italic", "color": "#ff0000", "align": "right", "baseline": "middle"},
       "encoding": {"x": {"datum": 4.38}, "y": {"datum": 0.29}}},
      {"data": {"name": "heads"}, "transform": [{"filter": "datum.m == 'MI'"}],
       "mark": {"type": "text", "fontSize": 36, "fontWeight": "bold", "align": "center", "baseline": "alphabetic", "color": "#000"},
       "encoding": {"x": {"field": "x", "type": "quantitative"}, "y": {"field": "y", "type": "quantitative"}, "text": {"field": "t"}}}
    ]
  },
  {
    "width": 482, "height": 359,
    "view": {"stroke": "#6a6a6a", "strokeWidth": 1.3},
    "layer": [
      {"data": {"name": "vio"},
       "transform": [{"filter": "datum.m == 'CC'"}, {"calculate": "indexof(['Diff-IF','Text-IF','Tar-DAL','MetaF.','Ours'], datum.c)", "as": "i"}, {"calculate": "datum.i - datum.w", "as": "lo"}, {"calculate": "datum.i + datum.w", "as": "hi"}],
       "mark": {"type": "area", "orient": "horizontal", "interpolate": "monotone", "stroke": "#5a5a5a", "strokeWidth": 1, "opacity": 1},
       "encoding": {
         "y": {"field": "v", "type": "quantitative", "scale": {"domain": [0.091, 0.897], "nice": false, "zero": false}, "axis": {"values": [0.1,0.2,0.3,0.4,0.5,0.6,0.7,0.8], "format": ".1f", "grid": true, "gridColor": "#d0d0d0", "gridDash": [2,2], "gridWidth": 0.8, "tickSize": 4, "tickColor": "#555", "labelPadding": 3, "title": ".", "titleX": -37, "titleY": 100, "titleAngle": 0, "titleAlign": "left", "titleBaseline": "middle", "titleFontSize": 2, "titleColor": "transparent"}},
         "x": {"field": "lo", "type": "quantitative", "scale": {"domain": [-0.5, 4.5], "nice": false, "zero": false}, "axis": {"values": [0,1,2,3,4], "labelExpr": "['Diff-IF','Text-IF','Tar-DAL','MetaF.','Ours'][datum.value]", "grid": true, "gridColor": "#d0d0d0", "gridDash": [2,2], "gridWidth": 0.8, "tickSize": 4, "tickColor": "#555", "labelPadding": 3, "title": null}},
         "x2": {"field": "hi"},
         "fill": {"field": "c", "type": "nominal", "scale": {"domain": ["Diff-IF","Text-IF","MetaF.","Tar-DAL","Ours"], "range": ["#6f8d9b","#b7a6d6","#8fcae6","#9ed182","#dd7a87"]}, "legend": null}
       }},
      {"data": {"name": "box"}, "transform": [{"filter": "datum.m == 'CC'"}, {"calculate": "indexof(['Diff-IF','Text-IF','Tar-DAL','MetaF.','Ours'], datum.c)", "as": "i"}],
       "mark": {"type": "rule", "color": "#4a4a4a", "strokeWidth": 2.2},
       "encoding": {"x": {"field": "i", "type": "quantitative"}, "y": {"field": "lo", "type": "quantitative"}, "y2": {"field": "hi"}}},
      {"data": {"name": "box"}, "transform": [{"filter": "datum.m == 'CC'"}, {"calculate": "indexof(['Diff-IF','Text-IF','Tar-DAL','MetaF.','Ours'], datum.c)", "as": "i"}],
       "mark": {"type": "bar", "color": "#4a4a4a", "size": 7},
       "encoding": {"x": {"field": "i", "type": "quantitative"}, "y": {"field": "q1", "type": "quantitative"}, "y2": {"field": "q3"}}},
      {"data": {"name": "box"}, "transform": [{"filter": "datum.m == 'CC'"}, {"calculate": "indexof(['Diff-IF','Text-IF','Tar-DAL','MetaF.','Ours'], datum.c)", "as": "i"}],
       "mark": {"type": "point", "shape": "M-1,0H1", "size": 49, "filled": false, "stroke": "#ffffff", "strokeWidth": 1.5, "opacity": 1},
       "encoding": {"x": {"field": "i", "type": "quantitative"}, "y": {"field": "med", "type": "quantitative"}}},
      {"data": {"values": [{}]},
       "mark": {"type": "rule", "color": "#ff0000", "strokeWidth": 3, "strokeDash": [11, 4]},
       "encoding": {"y": {"datum": 0.681}}},
      {"data": {"values": [{}]},
       "mark": {"type": "rule", "color": "#ff0000", "strokeWidth": 3, "strokeDash": [8, 4]},
       "encoding": {"x": {"datum": 2.72}, "x2": {"datum": 3.15}, "y": {"datum": 0.143}}},
      {"data": {"values": [{}]},
       "mark": {"type": "text", "text": "Isoline", "fontSize": 37, "fontWeight": "bold", "fontStyle": "italic", "color": "#ff0000", "align": "right", "baseline": "middle"},
       "encoding": {"x": {"datum": 4.39}, "y": {"datum": 0.142}}},
      {"data": {"name": "heads"}, "transform": [{"filter": "datum.m == 'CC'"}],
       "mark": {"type": "text", "fontSize": 36, "fontWeight": "bold", "align": "center", "baseline": "alphabetic", "color": "#000"},
       "encoding": {"x": {"field": "x", "type": "quantitative"}, "y": {"field": "y", "type": "quantitative"}, "text": {"field": "t"}}}
    ]
  }
  ],
  "spacing": 1,
  "title": {"text": "(b) Evaluation performance", "orient": "bottom", "anchor": "middle", "fontSize": 41.5, "fontWeight": "normal", "offset": 28, "dx": 25, "color": "#111"}
}
]
}
